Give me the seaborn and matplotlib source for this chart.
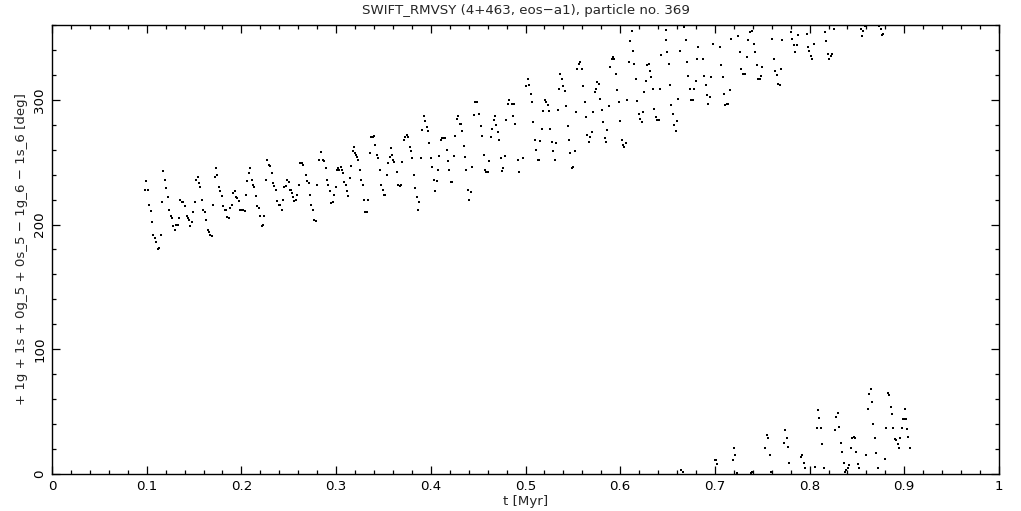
import numpy as np
import pandas as pd
import seaborn as sns
import matplotlib
matplotlib.use("Agg")
import matplotlib.pyplot as plt
from matplotlib.ticker import MultipleLocator

# ---- data (time in Myr, resonant angle in deg) ----
t_main = [
    0.0993, 0.0986, 0.1014, 0.1028, 0.1049, 0.1060, 0.1070, 0.1092, 0.1102, 0.1134, 0.1123, 0.1155,
    0.1165, 0.1176, 0.1197, 0.1208, 0.1229, 0.1239, 0.1260, 0.1271, 0.1282, 0.1303, 0.1313, 0.1334,
    0.1345, 0.1356, 0.1377, 0.1387, 0.1408, 0.1422, 0.1440, 0.1451, 0.1461, 0.1482, 0.1493, 0.1514,
    0.1524, 0.1546, 0.1556, 0.1567, 0.1588, 0.1598, 0.1620, 0.1630, 0.1651, 0.1662, 0.1672, 0.1693,
    0.1704, 0.1725, 0.1736, 0.1746, 0.1767, 0.1778, 0.1799, 0.1810, 0.1831, 0.1841, 0.1852, 0.1873,
    0.1883, 0.1905, 0.1915, 0.1936, 0.1947, 0.1957, 0.1979, 0.1989, 0.2010, 0.2021, 0.2042, 0.2052,
    0.2063, 0.2084, 0.2095, 0.2116, 0.2126, 0.2137, 0.2158, 0.2169, 0.2190, 0.2200, 0.2221, 0.2232,
    0.2243, 0.2264, 0.2274, 0.2295, 0.2306, 0.2327, 0.2338, 0.2348, 0.2369, 0.2380, 0.2401, 0.2411,
    0.2433, 0.2443, 0.2454, 0.2475, 0.2485, 0.2506, 0.2517, 0.2528, 0.2538, 0.2549, 0.2559, 0.2580,
    0.2591, 0.2612, 0.2623, 0.2644, 0.2654, 0.2686, 0.2697, 0.2718, 0.2728, 0.2739, 0.2760, 0.2770,
    0.2792, 0.2802, 0.2823, 0.2844, 0.2866, 0.2876, 0.2897, 0.2908, 0.2918,
    0.2936, 0.2946, 0.2967, 0.2978, 0.2999, 0.3010, 0.3020, 0.3031, 0.3052, 0.3062, 0.3073, 0.3083,
    0.3105, 0.3115, 0.3126, 0.3147, 0.3157, 0.3178, 0.3189, 0.3200, 0.3210, 0.3221, 0.3231, 0.3252,
    0.3263, 0.3284, 0.3295, 0.3305, 0.3326, 0.3337, 0.3358, 0.3369, 0.3390, 0.3400, 0.3411, 0.3432,
    0.3442, 0.3464, 0.3474, 0.3495, 0.3506, 0.3516, 0.3537, 0.3548, 0.3569, 0.3580, 0.3590, 0.3601,
    0.3611, 0.3643, 0.3654, 0.3675, 0.3685, 0.3696, 0.3717, 0.3728, 0.3749, 0.3759, 0.3780, 0.3791,
    0.3801, 0.3823, 0.3833, 0.3854, 0.3865, 0.3875, 0.3897, 0.3907, 0.3928, 0.3939, 0.3960, 0.3970,
    0.3981, 0.4002, 0.4013, 0.4034, 0.4044, 0.4065, 0.4076, 0.4087, 0.4108, 0.4118, 0.4139, 0.4150,
    0.4171, 0.4182, 0.4192, 0.4213, 0.4224, 0.4245, 0.4256, 0.4277, 0.4287, 0.4308, 0.4319, 0.4330,
    0.4351, 0.4361, 0.4372, 0.4393, 0.4403, 0.4425, 0.4435, 0.4456, 0.4467, 0.4488, 0.4509, 0.4530,
    0.4541, 0.4562, 0.4572, 0.4583, 0.4604, 0.4615, 0.4636, 0.4646, 0.4667, 0.4678, 0.4689, 0.4710,
    0.4720, 0.4741, 0.4752, 0.4762, 0.4784, 0.4794, 0.4815, 0.4826, 0.4857, 0.4868, 0.4879, 0.4889,
    0.4921, 0.4931,
    0.4977, 0.5009, 0.5030, 0.5041, 0.5062, 0.5072, 0.5083, 0.5104, 0.5115, 0.5136, 0.5146, 0.5157,
    0.5178, 0.5189, 0.5210, 0.5220, 0.5241, 0.5252, 0.5263, 0.5284, 0.5294, 0.5315, 0.5326, 0.5347,
    0.5358, 0.5368, 0.5389, 0.5400, 0.5421, 0.5431, 0.5453, 0.5463, 0.5474, 0.5495, 0.5505, 0.5527,
    0.5537, 0.5548, 0.5569, 0.5579, 0.5600, 0.5611, 0.5632, 0.5643, 0.5653, 0.5674, 0.5685, 0.5706,
    0.5717, 0.5738, 0.5748, 0.5759, 0.5780, 0.5790, 0.5812, 0.5822, 0.5843, 0.5854, 0.5864, 0.5886,
    0.5896, 0.5917, 0.5928, 0.5938, 0.5959, 0.5970, 0.5991, 0.6002, 0.6023, 0.6033, 0.6044, 0.6065,
    0.6076, 0.6097, 0.6107, 0.6125, 0.6139, 0.6150, 0.6171, 0.6181, 0.6202, 0.6213, 0.6234, 0.6245,
    0.6255, 0.6276, 0.6287, 0.6308, 0.6318, 0.6329, 0.6350, 0.6361, 0.6382, 0.6392, 0.6413, 0.6424,
    0.6435, 0.6480, 0.6487, 0.6498, 0.6519, 0.6530, 0.6540, 0.6561, 0.6572, 0.6593, 0.6604, 0.6614,
    0.6635, 0.6677, 0.6699, 0.6709, 0.6720, 0.6741, 0.6752, 0.6773, 0.6783, 0.6804, 0.6815, 0.6825,
    0.6877, 0.6888, 0.6909, 0.6920, 0.6930, 0.6951, 0.6962, 0.6983, 0.7057, 0.7067, 0.7089, 0.7099,
    0.7110, 0.7131, 0.7141, 0.7163, 0.7173, 0.7247, 0.7268, 0.7279, 0.7300, 0.7321, 0.7342, 0.7353,
    0.7374, 0.7395, 0.7416, 0.7427, 0.7448, 0.7458, 0.7479, 0.7490, 0.7500, 0.7606, 0.7627, 0.7638,
    0.7659, 0.7669, 0.7690, 0.7701, 0.7712, 0.7807, 0.7817, 0.7838, 0.7849, 0.7870, 0.7881, 0.7976,
    0.7986, 0.7997, 0.8018, 0.8028, 0.8049, 0.8166, 0.8176, 0.8197, 0.8208, 0.8229, 0.8240, 0.8261,
    0.8546, 0.8557, 0.8567, 0.8588, 0.8736, 0.8757, 0.8768, 0.8778,
]
ang_main = [
    235, 228, 228, 216, 211, 202, 192, 189, 186, 181, 180, 192,
    218, 243, 236, 229, 222, 212, 207, 205, 199, 196, 200, 200,
    205, 220, 218, 218, 215, 207, 205, 204, 199, 202, 210, 218,
    236, 238, 233, 230, 220, 212, 210, 204, 196, 194, 192, 191,
    216, 238, 245, 240, 230, 227, 223, 215, 212, 212, 206, 205,
    213, 216, 225, 227, 222, 221, 219, 212, 212, 212, 211, 224,
    235, 241, 245, 236, 232, 230, 223, 215, 213, 207, 199, 200,
    207, 236, 252, 248, 247, 241, 233, 231, 228, 219, 216, 216,
    212, 220, 230, 231, 236, 234, 228, 228, 225, 222, 219, 220,
    224, 232, 249, 249, 248, 240, 235, 233, 224, 216, 212, 204,
    203, 232, 252, 258, 252, 251, 245, 236, 232,
    227, 217, 218, 224, 230, 244, 245, 244, 246, 244, 241, 234,
    232, 227, 223, 237, 247, 259, 262, 257, 256, 254, 252, 244,
    236, 232, 220, 210, 210, 220, 257, 270, 270, 271, 264, 256,
    253, 244, 232, 228, 224, 224, 240, 249, 254, 261, 256, 252,
    250, 242, 232, 231, 232, 250, 268, 270, 272, 270, 262, 259,
    253, 240, 229, 222, 212, 218, 253, 276, 287, 283, 278, 275,
    265, 253, 246, 236, 227, 235, 244, 255, 268, 269, 269, 269,
    260, 251, 244, 234, 234, 255, 271, 285, 287, 281, 281, 275,
    263, 254, 244, 228, 220, 226, 246, 288, 298, 298, 289, 279,
    271, 256, 244, 242, 242, 251, 270, 277, 284, 287, 280, 274,
    268, 253, 243, 245, 255, 284, 297, 300, 297, 287, 297, 281,
    252, 242,
    253, 311, 317, 312, 305, 298, 282, 268, 260, 252, 252, 267,
    277, 291, 300, 298, 296, 291, 277, 266, 259, 252, 265, 292,
    309, 321, 317, 311, 307, 295, 279, 268, 257, 245, 246, 259,
    290, 325, 329, 330, 325, 311, 298, 286, 272, 266, 270, 274,
    290, 306, 309, 314, 313, 301, 292, 282, 269, 266, 276, 295,
    326, 333, 334, 333, 321, 308, 298, 283, 268, 264, 262, 265,
    300, 330, 347, 355, 339, 329, 317, 299, 289, 285, 282, 290,
    306, 315, 328, 329, 323, 318, 309, 293, 286, 284, 284, 309,
    336, 356, 348, 338, 329, 312, 296, 289, 280, 275, 283, 301,
    339, 358, 348, 330, 319, 309, 300, 300, 309, 315, 333, 342,
    333, 319, 312, 304, 297, 302, 318, 345, 342, 328, 318, 305,
    296, 297, 297, 308, 349, 351, 338, 325, 321, 321, 334, 348,
    354, 355, 345, 338, 328, 317, 317, 319, 326, 349, 333, 323,
    320, 313, 312, 325, 348, 354, 349, 344, 338, 344, 352, 353,
    342, 339, 335, 333, 345, 354, 347, 337, 333, 335, 337, 357,
    357, 351, 355, 359, 359, 357, 352, 353,
]

# wrapped part of the same angle (crossed 360 -> 0)
t_wrap = [
    0.6645, 0.6663, 0.6997, 0.7008, 0.7025, 0.7194, 0.7205, 0.7215, 0.7236, 0.7384, 0.7395, 0.7532,
    0.7553, 0.7564, 0.7585, 0.7595, 0.7733, 0.7743, 0.7764, 0.7775, 0.7786, 0.7912, 0.7923, 0.7944,
    0.7954, 0.8060, 0.8081, 0.8092, 0.8102, 0.8123, 0.8134, 0.8155, 0.8271, 0.8282, 0.8303, 0.8313,
    0.8335, 0.8345, 0.8366, 0.8377, 0.8387, 0.8409, 0.8419, 0.8440, 0.8451, 0.8472, 0.8483, 0.8493,
    0.8514, 0.8525, 0.8599, 0.8620, 0.8630, 0.8651, 0.8662, 0.8673, 0.8694, 0.8704, 0.8725, 0.8799,
    0.8810, 0.8831, 0.8842, 0.8863, 0.8873, 0.8884, 0.8905, 0.8915, 0.8937, 0.8947, 0.8958, 0.8979,
    0.8989, 0.9000, 0.9011, 0.9021, 0.9032, 0.9043, 0.9064,
]
ang_wrap = [
    3, 2, 11, 11, 8, 11, 21, 15, 1, 1, 2, 21,
    31, 29, 15, 2, 25, 35, 29, 22, 9, 14, 15, 9,
    5, 6, 37, 51, 45, 37, 24, 5, 35, 46, 49, 38,
    25, 18, 9, 2, 3, 5, 7, 21, 29, 30, 29, 18,
    8, 5, 15, 52, 64, 68, 58, 40, 29, 17, 5, 12,
    37, 65, 63, 54, 48, 37, 28, 27, 24, 21, 29, 37,
    44, 44, 52, 44, 36, 30, 21,
]

title = "SWIFT_RMVSY (4+463, eos\u2212a1), particle no. 369"
xlabel = "t [Myr]"
ylabel = "+ 1g + 1s + 0g_5 + 0s_5 \u2212 1g_6 \u2212 1s_6 [deg]"
xtick_labels = ["0", "0.1", "0.2", "0.3", "0.4", "0.5", "0.6", "0.7", "0.8", "0.9", "1"]

df = pd.DataFrame({
    "t": list(t_main) + list(t_wrap),
    "ang": list(ang_main) + list(ang_wrap),
})

sns.set_style("ticks")
plt.rcParams["font.family"] = ["DejaVu Sans"]
FS = 9.6

fig = plt.figure(figsize=(10.21, 5.11), dpi=100)
ax = fig.add_axes([52 / 1021, 37 / 511, 947 / 1021, 449 / 511])

sns.scatterplot(data=df, x="t", y="ang", ax=ax, color="black", marker="s",
                s=0.75, linewidth=0, legend=False)

ax.set_xlim(0, 1)
ax.set_ylim(0, 360)
ax.xaxis.set_major_locator(MultipleLocator(0.1))
ax.xaxis.set_minor_locator(MultipleLocator(0.02))
ax.yaxis.set_major_locator(MultipleLocator(100))
ax.yaxis.set_minor_locator(MultipleLocator(20))
ax.set_xticks(np.linspace(0, 1, len(xtick_labels)))
ax.set_xticklabels(xtick_labels)

ax.tick_params(which="both", direction="in", top=True, right=True, color="black",
               width=0.9, labelsize=FS, labelcolor="black")
ax.tick_params(which="major", length=6, pad=4)
ax.tick_params(which="minor", length=3)
for lab in ax.get_yticklabels():
    lab.set_rotation(90)
    lab.set_va("center")

for sp in ax.spines.values():
    sp.set_visible(True)
    sp.set_color("black")
    sp.set_linewidth(1.0)

ax.set_xlabel(xlabel, fontsize=FS, labelpad=2)
ax.set_ylabel(ylabel, fontsize=FS, labelpad=4)
ax.set_title(title, fontsize=FS, pad=8)

fig.savefig("out.png", dpi=100, facecolor="white")
